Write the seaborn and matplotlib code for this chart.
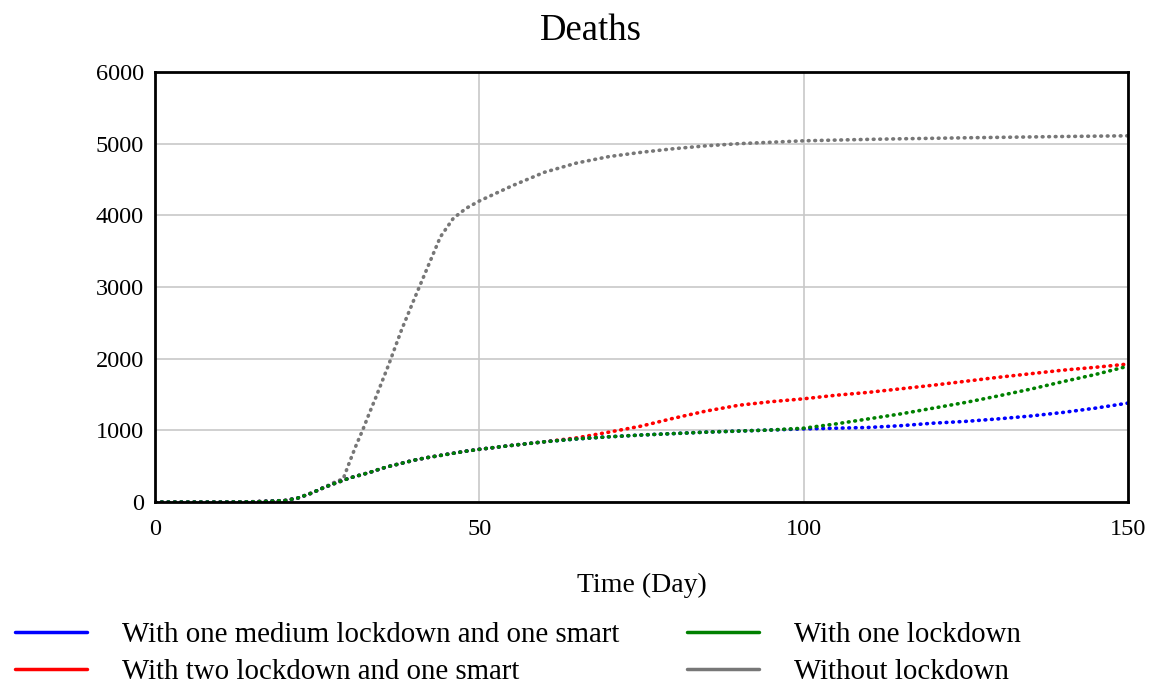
import pandas as pd
import matplotlib
matplotlib.use("Agg")
import matplotlib.pyplot as plt
from matplotlib.lines import Line2D
import seaborn as sns

# values
days = [0, 5, 10, 15, 20, 22, 24, 26, 28, 29, 30, 31, 32, 33, 34, 35, 36, 38, 40, 42,
        44, 46, 48, 50, 55, 60, 65, 70, 75, 80, 85, 90, 95, 100, 105, 110, 115, 120,
        125, 130, 135, 140, 145, 150]

medium_smart = [0, 0, 0, 3, 20, 55, 120, 200, 270, 300, 335, 360, 385, 410, 440, 470, 495, 540, 585, 620,
                650, 680, 710, 735, 790, 840, 880, 910, 935, 955, 975, 990, 1005, 1020, 1030, 1040, 1065, 1100,
                1125, 1160, 1200, 1250, 1310, 1380]
two_smart = [0, 0, 0, 3, 20, 55, 120, 200, 270, 300, 335, 360, 385, 410, 440, 470, 495, 540, 585, 620,
             650, 680, 710, 735, 790, 840, 895, 975, 1060, 1170, 1270, 1350, 1400, 1440, 1490, 1530, 1580, 1630,
             1685, 1740, 1790, 1840, 1880, 1925]
one_lockdown = [0, 0, 0, 3, 20, 55, 120, 200, 270, 300, 335, 360, 385, 410, 440, 470, 495, 540, 585, 620,
                650, 680, 710, 735, 790, 840, 880, 910, 935, 955, 975, 990, 1005, 1030, 1090, 1160, 1230, 1310,
                1390, 1480, 1575, 1680, 1780, 1895]
no_lockdown = [0, 0, 0, 3, 20, 55, 120, 200, 290, 320, 560, 790, 1000, 1230, 1450, 1680, 1910, 2400, 2840, 3270,
               3700, 3960, 4100, 4200, 4410, 4600, 4730, 4820, 4880, 4930, 4970, 5000, 5020, 5040, 5050, 5060, 5068, 5075,
               5082, 5088, 5094, 5100, 5105, 5110]

labels = ["With one medium lockdown and one smart", "With two lockdown and one smart",
          "With one lockdown", "Without lockdown"]
colors = ["#0000ff", "#ff0000", "#008000", "#777777"]

frames = []
for name, vals in zip(labels, [medium_smart, two_smart, one_lockdown, no_lockdown]):
    frames.append(pd.DataFrame({"day": days, "deaths": vals, "scenario": name}))
df = pd.concat(frames, ignore_index=True)

sns.set_theme(style="whitegrid")
plt.rcParams["font.family"] = ["Liberation Serif", "DejaVu Serif"]
plt.rcParams["text.color"] = "black"

fig = plt.figure(figsize=(11.53, 6.88), dpi=100)
ax = fig.add_axes([155 / 1153, 1 - 502 / 688, (1128 - 155) / 1153, (502 - 72) / 688])

# draw order: gray at the back
draw_order = ["Without lockdown", "With two lockdown and one smart",
              "With one medium lockdown and one smart", "With one lockdown"]
palette = dict(zip(labels, colors))
for name in draw_order:
    sns.lineplot(data=df[df["scenario"] == name], x="day", y="deaths", color=palette[name],
                 ax=ax, linewidth=2.6, linestyle=(0, (0.2, 1.6)), dash_capstyle="round",
                 legend=False)

ax.set_xlim(0, 150)
ax.set_ylim(0, 6000)
ax.set_xticks([0, 50, 100, 150])
ax.set_yticks([0, 1000, 2000, 3000, 4000, 5000, 6000])
ax.tick_params(length=0, labelsize=17.5, colors="black")
ax.tick_params(axis="y", pad=8)
ax.tick_params(axis="x", pad=12)
ax.grid(True, color="#c8c8c8", linewidth=1.2)
for s in ax.spines.values():
    s.set_color("black")
    s.set_linewidth(2.0)
ax.set_ylabel("")
ax.set_xlabel("Time (Day)", fontsize=20, labelpad=24, color="black")

fig.text(591 / 1153, 1 - 31 / 688, "Deaths", ha="center", va="center", fontsize=26.5, color="black")

handles = [Line2D([0], [0], color=c, linewidth=2.5) for c in colors]
leg = fig.legend(handles, labels, loc="upper left", bbox_to_anchor=(15 / 1153, 1 - 622 / 688),
                 ncol=2, frameon=False, fontsize=20.8, handlelength=2.5, handletextpad=1.2,
                 columnspacing=2.35, labelspacing=0.36, borderpad=0, borderaxespad=0)
for t in leg.get_texts():
    t.set_color("black")

fig.savefig("out.png", dpi=100)
